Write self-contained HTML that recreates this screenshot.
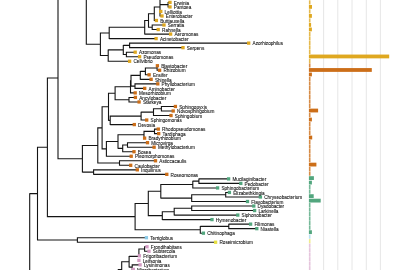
<!DOCTYPE html><html><head><meta charset="utf-8"><style>html,body{margin:0;padding:0;background:#fff;width:405px;height:270px;overflow:hidden}svg{display:block}text{font-family:"Liberation Sans",sans-serif;font-size:47.0px;fill:#151515;stroke:#151515;stroke-width:0.8999999999999999px}.tx{will-change:transform}</style></head><body>
<svg width="405" height="270" viewBox="0 0 405 270">
<line x1="323.6" y1="0" x2="323.6" y2="270" stroke="#e3e3e3" stroke-width="0.9"/>
<line x1="337.8" y1="0" x2="337.8" y2="270" stroke="#e3e3e3" stroke-width="0.9"/>
<line x1="352" y1="0" x2="352" y2="270" stroke="#e3e3e3" stroke-width="0.9"/>
<line x1="366.3" y1="0" x2="366.3" y2="270" stroke="#e3e3e3" stroke-width="0.9"/>
<line x1="380.4" y1="0" x2="380.4" y2="270" stroke="#e3e3e3" stroke-width="0.9"/>
<rect x="308.9" y="0.3" width="1.6" height="4.2" fill="#dfa820" fill-opacity="0.8"/>
<rect x="308.9" y="5" width="3.1" height="3.8" fill="#dfa820"/>
<rect x="308.9" y="9.31" width="1.6" height="4.2" fill="#dfa820" fill-opacity="0.8"/>
<rect x="308.9" y="14.02" width="3" height="3.8" fill="#dfa820"/>
<rect x="308.9" y="18.32" width="1.6" height="4.2" fill="#dfa820" fill-opacity="0.8"/>
<rect x="308.9" y="23.02" width="2.2" height="3.8" fill="#dfa820"/>
<rect x="308.9" y="27.53" width="3" height="3.8" fill="#dfa820"/>
<rect x="308.9" y="31.84" width="1.6" height="4.2" fill="#dfa820" fill-opacity="0.8"/>
<rect x="308.9" y="36.34" width="1.6" height="4.2" fill="#dfa820" fill-opacity="0.8"/>
<rect x="308.9" y="40.84" width="1.6" height="4.2" fill="#dfa820" fill-opacity="0.8"/>
<rect x="308.9" y="45.35" width="1.6" height="4.2" fill="#dfa820" fill-opacity="0.8"/>
<rect x="308.9" y="49.85" width="1.6" height="4.2" fill="#dfa820" fill-opacity="0.8"/>
<rect x="308.9" y="54.56" width="80.3" height="3.8" fill="#dfa820"/>
<rect x="308.9" y="58.86" width="1.6" height="4.2" fill="#dfa820" fill-opacity="0.8"/>
<rect x="308.9" y="63.37" width="1.6" height="4.2" fill="#cc6e18" fill-opacity="0.8"/>
<rect x="308.9" y="68.08" width="62.9" height="3.8" fill="#cc6e18"/>
<rect x="308.9" y="72.58" width="3" height="3.8" fill="#cc6e18"/>
<rect x="308.9" y="76.88" width="1.6" height="4.2" fill="#cc6e18" fill-opacity="0.8"/>
<rect x="308.9" y="81.39" width="1.6" height="4.2" fill="#cc6e18" fill-opacity="0.8"/>
<rect x="308.9" y="85.89" width="1.6" height="4.2" fill="#cc6e18" fill-opacity="0.8"/>
<rect x="308.9" y="90.4" width="1.6" height="4.2" fill="#cc6e18" fill-opacity="0.8"/>
<rect x="308.9" y="94.91" width="1.6" height="4.2" fill="#cc6e18" fill-opacity="0.8"/>
<rect x="308.9" y="99.41" width="1.6" height="4.2" fill="#cc6e18" fill-opacity="0.8"/>
<rect x="308.9" y="103.91" width="1.6" height="4.2" fill="#cc6e18" fill-opacity="0.8"/>
<rect x="308.9" y="108.62" width="9.2" height="3.8" fill="#cc6e18"/>
<rect x="308.9" y="112.92" width="1.6" height="4.2" fill="#cc6e18" fill-opacity="0.8"/>
<rect x="308.9" y="117.63" width="3" height="3.8" fill="#cc6e18"/>
<rect x="308.9" y="121.93" width="1.6" height="4.2" fill="#cc6e18" fill-opacity="0.8"/>
<rect x="308.9" y="126.44" width="1.6" height="4.2" fill="#cc6e18" fill-opacity="0.8"/>
<rect x="308.9" y="130.95" width="1.6" height="4.2" fill="#cc6e18" fill-opacity="0.8"/>
<rect x="308.9" y="135.65" width="3.3" height="3.8" fill="#cc6e18"/>
<rect x="308.9" y="139.96" width="1.6" height="4.2" fill="#cc6e18" fill-opacity="0.8"/>
<rect x="308.9" y="144.46" width="1.6" height="4.2" fill="#cc6e18" fill-opacity="0.8"/>
<rect x="308.9" y="148.97" width="1.6" height="4.2" fill="#cc6e18" fill-opacity="0.8"/>
<rect x="308.9" y="153.47" width="1.6" height="4.2" fill="#cc6e18" fill-opacity="0.8"/>
<rect x="308.9" y="157.97" width="1.6" height="4.2" fill="#cc6e18" fill-opacity="0.8"/>
<rect x="308.9" y="162.68" width="7.5" height="3.8" fill="#cc6e18"/>
<rect x="308.9" y="166.99" width="1.6" height="4.2" fill="#cc6e18" fill-opacity="0.8"/>
<rect x="308.9" y="171.49" width="1.6" height="4.2" fill="#cc6e18" fill-opacity="0.8"/>
<rect x="308.9" y="176.19" width="5" height="3.8" fill="#52a67e"/>
<rect x="308.9" y="180.7" width="3" height="3.8" fill="#52a67e"/>
<rect x="308.9" y="185" width="1.6" height="4.2" fill="#52a67e" fill-opacity="0.8"/>
<rect x="308.9" y="189.51" width="1.6" height="4.2" fill="#52a67e" fill-opacity="0.8"/>
<rect x="308.9" y="194.22" width="4.8" height="3.8" fill="#52a67e"/>
<rect x="308.9" y="198.72" width="11.8" height="3.8" fill="#52a67e"/>
<rect x="308.9" y="203.03" width="1.6" height="4.2" fill="#52a67e" fill-opacity="0.8"/>
<rect x="308.9" y="207.53" width="1.6" height="4.2" fill="#52a67e" fill-opacity="0.8"/>
<rect x="308.9" y="212.03" width="1.6" height="4.2" fill="#52a67e" fill-opacity="0.8"/>
<rect x="308.9" y="216.54" width="1.6" height="4.2" fill="#52a67e" fill-opacity="0.8"/>
<rect x="308.9" y="221.05" width="1.6" height="4.2" fill="#52a67e" fill-opacity="0.8"/>
<rect x="308.9" y="225.55" width="1.6" height="4.2" fill="#52a67e" fill-opacity="0.8"/>
<rect x="308.9" y="230.25" width="3" height="3.8" fill="#52a67e"/>
<rect x="308.9" y="234.56" width="1.6" height="4.2" fill="#8ccbe8" fill-opacity="0.6"/>
<rect x="308.9" y="239.06" width="1.6" height="4.2" fill="#e6df40" fill-opacity="0.6"/>
<rect x="308.9" y="243.57" width="1.6" height="4.2" fill="#d49cc4" fill-opacity="0.6"/>
<rect x="308.9" y="248.08" width="1.6" height="4.2" fill="#d49cc4" fill-opacity="0.6"/>
<rect x="308.9" y="252.58" width="1.6" height="4.2" fill="#d49cc4" fill-opacity="0.6"/>
<rect x="308.9" y="257.08" width="1.6" height="4.2" fill="#d49cc4" fill-opacity="0.6"/>
<rect x="308.9" y="261.59" width="1.6" height="4.2" fill="#d49cc4" fill-opacity="0.6"/>
<rect x="308.9" y="266.1" width="1.6" height="4.2" fill="#d49cc4" fill-opacity="0.6"/>
<path d="M168.1 2.4H170M168.1 6.93H170M168.1 1.9V7.43M160 4.66H168.1M160 11.45H160.8M160 15.98H162M160 -2.63V16.48M154.3 6.93H160M154.3 20.5H156.4M154.3 6.43V21M148.5 13.71H154.3M152.2 25.02H164M152.2 29.55H158.2M152.2 24.52V30.05M148.5 27.29H152.2M148.5 13.21V27.79M144.7 20.5H148.5M144.7 34.08H170.6M144.7 20V34.58M109.2 27.29H144.7M109.2 38.6H156.1M109.2 26.79V39.1M100.4 32.94H109.2M129.6 43.12H248.7M129.6 47.65H183M129.6 42.62V48.15M123.3 45.39H129.6M126.4 52.18H135.2M126.4 56.7H139.6M126.4 51.68V57.2M123.3 54.44H126.4M123.3 44.89V54.94M108.2 49.91H123.3M108.2 61.23H129.6M108.2 49.41V61.73M100.4 55.57H108.2M100.4 32.44V56.07M86.3 44.26H100.4M86.3 -50.4V44.76M58 -2.82H86.3M157.1 65.75H157.4M157.1 70.28H159.6M157.1 65.25V70.78M145.4 68.01H157.1M145.4 74.8H149.1M145.4 67.51V75.3M140.3 71.41H145.4M140.3 79.33H151.1M140.3 70.91V79.83M131 75.37H140.3M135 83.85H157.8M135 88.38H144.7M135 83.35V88.88M131 86.11H135M131 74.87V86.61M130.5 80.74H131M130.5 92.9H135.2M130.5 80.24V93.4M115.1 86.82H130.5M129 97.43H135.4M129 101.95H139.1M129 96.93V102.45M115.1 99.69H129M115.1 86.32V100.19M108.5 93.25H115.1M161.4 106.48H175.4M161.4 111H173.2M161.4 105.98V111.5M153.5 108.74H161.4M153.5 115.53H171M153.5 108.24V116.03M141.1 112.13H153.5M141.1 120.05H146.7M141.1 111.63V120.55M110.2 116.09H141.1M110.2 124.58H134.3M110.2 115.59V125.08M108.5 120.33H110.2M108.5 92.75V120.83M102.1 106.79H108.5M154.5 129.1H158.3M154.5 133.63H158.7M154.5 128.6V134.13M144 131.36H154.5M144 138.15H144.6M144 130.86V138.65M118 134.76H144M127.5 142.68H147.5M127.5 147.2H154.1M127.5 142.18V147.7M122.7 144.94H127.5M122.7 151.73H134M122.7 144.44V152.23M118 148.33H122.7M118 134.26V148.83M106.4 141.54H118M106.4 156.25H131.2M106.4 141.04V156.75M102.1 148.9H106.4M102.1 106.29V149.4M97.8 127.85H102.1M119.5 160.78H155.5M119.5 165.3H130.7M119.5 160.28V165.8M97.8 163.04H119.5M97.8 127.35V163.54M82.4 145.44H97.8M93.6 169.83H137.3M93.6 174.35H166.8M93.6 169.33V174.85M82.4 172.09H93.6M82.4 144.94V172.59M58 158.76H82.4M58 -3.32V159.26M47.4 77.97H58M198.9 178.88H228.6M198.9 183.4H240.8M198.9 178.38V183.9M192.8 181.14H198.9M192.8 187.93H217.6M192.8 180.64V188.43M160.8 184.53H192.8M225.7 192.45H229.4M225.7 196.98H260.4M225.7 191.95V197.48M191.7 194.71H225.7M191.7 201.5H247.5M191.7 194.21V202M160.8 198.11H191.7M160.8 184.03V198.61M148.3 191.32H160.8M191.7 206.03H253.8M191.7 210.55H254.6M191.7 205.53V211.05M174.2 208.29H191.7M174.2 215.08H237.8M174.2 207.79V215.58M162.3 211.68H174.2M162.3 219.6H212M162.3 211.18V220.1M148.3 215.64H162.3M148.3 190.82V216.14M135.1 203.48H148.3M228.8 224.13H250.6M228.8 228.65H256.8M228.8 223.63V229.15M200.3 226.39H228.8M200.3 233.18H203.4M200.3 225.89V233.68M135.1 229.78H200.3M135.1 202.98V230.28M47.4 216.63H135.1M47.4 77.47V217.13M37.5 147.3H47.4M77.4 237.7H146.4M77.4 242.23H215.6M77.4 237.2V242.73M37.5 239.96H77.4M37.5 146.8V240.46M29.7 193.63H37.5M29.7 193.13V330.5M144.6 246.75H147M144.6 251.28H149M144.6 246.25V251.78M138.9 249.01H144.6M138.9 255.8H139.4M138.9 248.51V256.9M129.1 256.4H138.9M132.2 264.85H140.1M132.2 269.38H133.3M132.2 264.35V269.88M129.1 267.11H132.2M129.1 255.9V267.61M121.7 261.76H129.1M121.7 261.26V277.8M118.3 269.53H121.7M118.3 269.03V320.5" stroke="#141414" stroke-width="1.1" fill="none"/>
<rect x="168.35" y="0.75" width="3.3" height="3.3" fill="#dfa820"/>
<rect x="168.35" y="5.28" width="3.3" height="3.3" fill="#dfa820"/>
<rect x="159.15" y="9.8" width="3.3" height="3.3" fill="#dfa820"/>
<rect x="160.35" y="14.33" width="3.3" height="3.3" fill="#dfa820"/>
<rect x="154.75" y="18.85" width="3.3" height="3.3" fill="#dfa820"/>
<rect x="162.35" y="23.38" width="3.3" height="3.3" fill="#dfa820"/>
<rect x="156.55" y="27.9" width="3.3" height="3.3" fill="#dfa820"/>
<rect x="168.95" y="32.43" width="3.3" height="3.3" fill="#dfa820"/>
<rect x="154.45" y="36.95" width="3.3" height="3.3" fill="#dfa820"/>
<rect x="247.05" y="41.48" width="3.3" height="3.3" fill="#dfa820"/>
<rect x="181.35" y="46" width="3.3" height="3.3" fill="#dfa820"/>
<rect x="133.55" y="50.53" width="3.3" height="3.3" fill="#dfa820"/>
<rect x="137.95" y="55.05" width="3.3" height="3.3" fill="#dfa820"/>
<rect x="127.95" y="59.58" width="3.3" height="3.3" fill="#dfa820"/>
<rect x="155.75" y="64.1" width="3.3" height="3.3" fill="#cc6e18"/>
<rect x="157.95" y="68.62" width="3.3" height="3.3" fill="#cc6e18"/>
<rect x="147.45" y="73.15" width="3.3" height="3.3" fill="#cc6e18"/>
<rect x="149.45" y="77.68" width="3.3" height="3.3" fill="#cc6e18"/>
<rect x="156.15" y="82.2" width="3.3" height="3.3" fill="#cc6e18"/>
<rect x="143.05" y="86.73" width="3.3" height="3.3" fill="#cc6e18"/>
<rect x="133.55" y="91.25" width="3.3" height="3.3" fill="#cc6e18"/>
<rect x="133.75" y="95.78" width="3.3" height="3.3" fill="#cc6e18"/>
<rect x="137.45" y="100.3" width="3.3" height="3.3" fill="#cc6e18"/>
<rect x="173.75" y="104.83" width="3.3" height="3.3" fill="#cc6e18"/>
<rect x="171.55" y="109.35" width="3.3" height="3.3" fill="#cc6e18"/>
<rect x="169.35" y="113.88" width="3.3" height="3.3" fill="#cc6e18"/>
<rect x="145.05" y="118.4" width="3.3" height="3.3" fill="#cc6e18"/>
<rect x="132.65" y="122.93" width="3.3" height="3.3" fill="#cc6e18"/>
<rect x="156.65" y="127.45" width="3.3" height="3.3" fill="#cc6e18"/>
<rect x="157.05" y="131.98" width="3.3" height="3.3" fill="#cc6e18"/>
<rect x="142.95" y="136.5" width="3.3" height="3.3" fill="#cc6e18"/>
<rect x="145.85" y="141.03" width="3.3" height="3.3" fill="#cc6e18"/>
<rect x="152.45" y="145.55" width="3.3" height="3.3" fill="#cc6e18"/>
<rect x="132.35" y="150.08" width="3.3" height="3.3" fill="#cc6e18"/>
<rect x="129.55" y="154.6" width="3.3" height="3.3" fill="#cc6e18"/>
<rect x="153.85" y="159.12" width="3.3" height="3.3" fill="#cc6e18"/>
<rect x="129.05" y="163.65" width="3.3" height="3.3" fill="#cc6e18"/>
<rect x="135.65" y="168.18" width="3.3" height="3.3" fill="#cc6e18"/>
<rect x="165.15" y="172.7" width="3.3" height="3.3" fill="#cc6e18"/>
<rect x="226.95" y="177.23" width="3.3" height="3.3" fill="#52a67e"/>
<rect x="239.15" y="181.75" width="3.3" height="3.3" fill="#52a67e"/>
<rect x="215.95" y="186.28" width="3.3" height="3.3" fill="#52a67e"/>
<rect x="227.75" y="190.8" width="3.3" height="3.3" fill="#52a67e"/>
<rect x="258.75" y="195.33" width="3.3" height="3.3" fill="#52a67e"/>
<rect x="245.85" y="199.85" width="3.3" height="3.3" fill="#52a67e"/>
<rect x="252.15" y="204.38" width="3.3" height="3.3" fill="#52a67e"/>
<rect x="252.95" y="208.9" width="3.3" height="3.3" fill="#52a67e"/>
<rect x="236.15" y="213.43" width="3.3" height="3.3" fill="#52a67e"/>
<rect x="210.35" y="217.95" width="3.3" height="3.3" fill="#52a67e"/>
<rect x="248.95" y="222.48" width="3.3" height="3.3" fill="#52a67e"/>
<rect x="255.15" y="227" width="3.3" height="3.3" fill="#52a67e"/>
<rect x="201.75" y="231.53" width="3.3" height="3.3" fill="#52a67e"/>
<rect x="144.75" y="236.05" width="3.3" height="3.3" fill="#8ccbe8"/>
<rect x="213.95" y="240.58" width="3.3" height="3.3" fill="#e6df40"/>
<rect x="145.35" y="245.1" width="3.3" height="3.3" fill="#d49cc4"/>
<rect x="147.35" y="249.63" width="3.3" height="3.3" fill="#d49cc4"/>
<rect x="137.75" y="254.15" width="3.3" height="3.3" fill="#d49cc4"/>
<rect x="137.25" y="258.68" width="3.3" height="3.3" fill="#d49cc4"/>
<rect x="138.45" y="263.2" width="3.3" height="3.3" fill="#d49cc4"/>
<rect x="131.65" y="267.73" width="3.3" height="3.3" fill="#d49cc4"/>
<g class="tx" transform="scale(0.1)">
<text x="1738" y="46">Erwinia</text>
<text x="1738" y="91.25">Pantoea</text>
<text x="1646" y="136.5">Lelliottia</text>
<text x="1658" y="181.75">Enterobacter</text>
<text x="1602" y="227">Buttiauxella</text>
<text x="1678" y="272.25">Serratia</text>
<text x="1620" y="317.5">Rahnella</text>
<text x="1744" y="362.75">Aeromonas</text>
<text x="1599" y="408">Acinetobacter</text>
<text x="2525" y="453.25">Azorhizophilus</text>
<text x="1868" y="498.5">Serpens</text>
<text x="1390" y="543.75">Azomonas</text>
<text x="1434" y="589">Pseudomonas</text>
<text x="1334" y="634.25">Cellvibrio</text>
<text x="1612" y="679.5">Blastobacter</text>
<text x="1634" y="724.75">Rhizobium</text>
<text x="1529" y="770">Ensifer</text>
<text x="1549" y="815.25">Shinella</text>
<text x="1616" y="860.5">Phyllobacterium</text>
<text x="1485" y="905.75">Aminobacter</text>
<text x="1390" y="951">Mesorhizobium</text>
<text x="1392" y="996.25">Ancylobacter</text>
<text x="1429" y="1041.5">Starkeya</text>
<text x="1792" y="1086.75">Sphingopyxis</text>
<text x="1770" y="1132">Novosphingobium</text>
<text x="1748" y="1177.25">Sphingobium</text>
<text x="1505" y="1222.5">Sphingomonas</text>
<text x="1381" y="1267.75">Devosia</text>
<text x="1621" y="1313">Rhodopseudomonas</text>
<text x="1625" y="1358.25">Tardiphaga</text>
<text x="1484" y="1403.5">Bradyrhizobium</text>
<text x="1513" y="1448.75">Microvirga</text>
<text x="1579" y="1494">Methylobacterium</text>
<text x="1378" y="1539.25">Bosea</text>
<text x="1350" y="1584.5">Pleomorphomonas</text>
<text x="1593" y="1629.75">Asticcacaulis</text>
<text x="1345" y="1675">Caulobacter</text>
<text x="1411" y="1720.25">Inquilinus</text>
<text x="1706" y="1765.5">Roseomonas</text>
<text x="2324" y="1810.75">Mucilaginibacter</text>
<text x="2446" y="1856">Pedobacter</text>
<text x="2214" y="1901.25">Sphingobacterium</text>
<text x="2332" y="1946.5">Elizabethkingia</text>
<text x="2642" y="1991.75">Chryseobacterium</text>
<text x="2513" y="2037">Flavobacterium</text>
<text x="2576" y="2082.25">Dyadobacter</text>
<text x="2584" y="2127.5">Larkinella</text>
<text x="2416" y="2172.75">Siphonobacter</text>
<text x="2158" y="2218">Hymenobacter</text>
<text x="2544" y="2263.25">Filimonas</text>
<text x="2606" y="2308.5">Niastella</text>
<text x="2072" y="2353.75">Chitinophaga</text>
<text x="1502" y="2399">Terriglobus</text>
<text x="2194" y="2444.25">Roseimicrobium</text>
<text x="1508" y="2489.5">Frondihabitans</text>
<text x="1528" y="2534.75">Subtercola</text>
<text x="1432" y="2580">Frigoribacterium</text>
<text x="1427" y="2625.25">Leifsonia</text>
<text x="1439" y="2670.5">Lysinimonas</text>
<text x="1371" y="2715.75">Microbacterium</text>
</g>
</svg></body></html>
